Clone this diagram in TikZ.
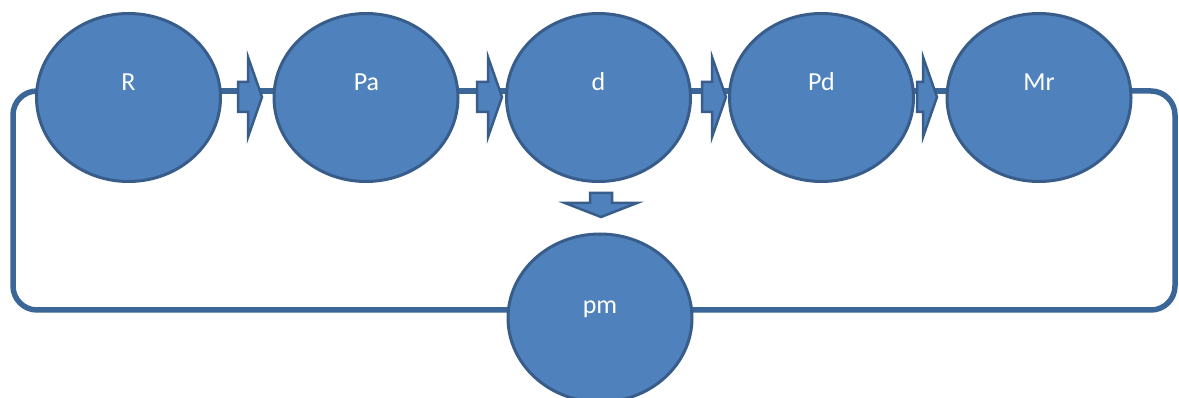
\documentclass[tikz,border=0pt]{standalone}
\usepackage{fontspec}
\setmainfont{Carlito}
\usetikzlibrary{shapes.geometric,calc,backgrounds}
\definecolor{fillblue}{HTML}{4F81BD}
\definecolor{edgeblue}{HTML}{385D8A}
\definecolor{loopblue}{HTML}{3B6698}
\begin{document}
\begin{tikzpicture}[x=1pt,y=-1pt,
  ell/.style={ellipse, draw=edgeblue, fill=fillblue, line width=3pt,
    minimum width=184pt, minimum height=168pt, inner sep=0pt},
  lbl/.style={text=white, font=\fontsize{26}{30}\selectfont, anchor=base, inner sep=0pt},
  loopline/.style={draw=loopblue, line width=5.5pt, rounded corners=24pt},
  blockarr/.style={draw=edgeblue, fill=fillblue, line width=2.5pt, line join=miter}]
\useasboundingbox (0,0) rectangle (1179,398);
% process circles
\node[ell] (R)  at (128.5,97.5) {};
\node[ell] (Pa) at (366,97.5) {};
\node[ell] (d)  at (598.5,97.5) {};
\node[ell] (Pd) at (821.5,97.5) {};
\node[ell] (Mr) at (1039,97.5) {};
\node[ell] (pm) at (600,318) {};
% labels
\node[lbl] (Rt)  at (128.5,90.5) {R};
\node[lbl] (Pat) at (366.5,90.5) {Pa};
\node[lbl] (dt)  at (598.5,90.5) {d};
\node[lbl] (Pdt) at (821.5,90.5) {Pd};
\node[lbl] (Mrt) at (1039,90.5) {Mr};
\node[lbl] (pmt) at (600,313) {pm};
% loop behind everything
\begin{scope}[on background layer]
  \draw[loopline] (R.center |- 0,91) -- (13,91) -- (13,310) -- (1175,310) -- (1175,91) -- (Mr.center |- 0,91);
  \draw[draw=loopblue, line width=5.5pt] (R.center |- 0,91) -- (Mr.center |- 0,91);
\end{scope}
% block arrows
\draw[blockarr] (238,82) -- (248,82) -- (248,57) -- (262,97) -- (248,137) -- (248,112) -- (238,112) -- cycle;
\draw[blockarr] (477,82) -- (488,82) -- (488,57) -- (502,97) -- (488,137) -- (488,112) -- (477,112) -- cycle;
\draw[blockarr] (702,82) -- (712,82) -- (712,57) -- (726,97) -- (712,137) -- (712,112) -- (702,112) -- cycle;
\draw[blockarr] (917,82) -- (923,82) -- (923,57) -- (937,97) -- (923,137) -- (923,112) -- (917,112) -- cycle;
\draw[blockarr] (590,193) -- (612,193) -- (612,203) -- (637,203) -- (601,217) -- (565,203) -- (590,203) -- cycle;
\end{tikzpicture}
\end{document}
